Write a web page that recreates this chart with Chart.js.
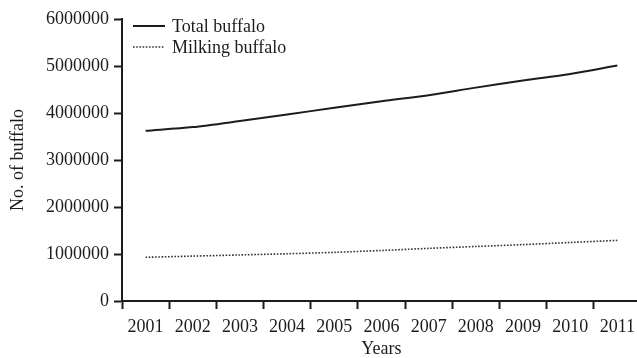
<!DOCTYPE html>
<html>
<head>
<meta charset="utf-8">
<script src="https://cdn.jsdelivr.net/npm/chart.js@4"></script>
<style>
  html, body { margin: 0; padding: 0; background: #fff; overflow: hidden; }
  #chart { display: block; }
</style>
</head>
<body>
<!-- a little wider than the window so the x axis runs off the right edge -->
<canvas id="chart" width="642" height="358"></canvas>
<script>
'use strict';

const years = ['2001', '2002', '2003', '2004', '2005', '2006', '2007', '2008', '2009', '2010', '2011'];
const totalBuffalo = [3620000, 3700000, 3830000, 3970000, 4110000, 4250000, 4380000, 4540000, 4690000, 4830000, 5010000];
const milkingBuffalo = [930000, 955000, 980000, 1005000, 1035000, 1075000, 1120000, 1160000, 1200000, 1245000, 1290000];
const yTicks = [0, 1000000, 2000000, 3000000, 4000000, 5000000, 6000000];

const ink = '#1c1c1c';
const serif = "'Liberation Serif', 'DejaVu Serif', serif";

// legend drawn inside the plot, top left, with a short line sample per series
const insideLegend = {
  id: 'insideLegend',
  afterDraw(chart) {
    const ctx = chart.ctx;
    const x0 = chart.chartArea.left + 11;
    let y = chart.chartArea.top + 7;
    ctx.save();
    ctx.font = '18px ' + serif;
    ctx.textBaseline = 'middle';
    chart.data.datasets.forEach(ds => {
      ctx.beginPath();
      ctx.strokeStyle = ds.borderColor;
      ctx.lineWidth = ds.borderWidth;
      ctx.setLineDash(ds.borderDash || []);
      ctx.moveTo(x0, y);
      ctx.lineTo(x0 + 32, y);
      ctx.stroke();
      ctx.setLineDash([]);
      ctx.fillStyle = ink;
      ctx.fillText(ds.label, x0 + 39, y + 1);
      y += 21;
    });
    ctx.restore();
  }
};

function renderChart() {
  let chartObj = {
    type: 'line',
    data: {
      labels: years,
      datasets: [
        {
          label: 'Total buffalo',
          data: totalBuffalo,
          borderColor: ink,
          borderWidth: 2,
          pointRadius: 0,
          tension: 0.3
        },
        {
          label: 'Milking buffalo',
          data: milkingBuffalo,
          borderColor: '#333',
          borderWidth: 1.6,
          borderDash: [1.6, 1.6],
          pointRadius: 0,
          tension: 0.3
        }
      ]
    },
    options: {
      responsive: false,
      animation: false,
      layout: { padding: { top: 19, right: 0, bottom: 0, left: 6 } },
      plugins: {
        legend: { display: false },
        tooltip: { enabled: false }
      },
      scales: {
        x: {
          type: 'category',
          offset: true,
          grid: {
            offset: true,
            drawOnChartArea: false,
            tickLength: 8,
            tickWidth: 2,
            tickColor: ink
          },
          border: { color: ink, width: 2 },
          ticks: {
            color: ink,
            padding: 7,
            maxRotation: 0,
            autoSkip: false,
            font: { family: serif, size: 18 }
          },
          title: {
            display: true,
            text: 'Years',
            color: ink,
            padding: { top: 0, bottom: 0 },
            font: { family: serif, size: 18, lineHeight: 1 }
          },
          afterFit(scale) { scale.height = 57; }
        },
        y: {
          min: 0,
          max: 6000000,
          afterBuildTicks(scale) {
            scale.ticks = yTicks.map(v => ({ value: v }));
          },
          grid: {
            drawOnChartArea: false,
            tickLength: 8,
            tickWidth: 2,
            tickColor: ink
          },
          border: { color: ink, width: 2 },
          ticks: {
            color: ink,
            padding: 5,
            callback: v => String(v),
            font: { family: serif, size: 18 }
          },
          title: {
            display: true,
            text: 'No. of buffalo',
            color: ink,
            padding: { top: 1, bottom: 4 },
            font: { family: serif, size: 18 }
          },
          afterFit(scale) { scale.width = 116; }
        }
      }
    },
    plugins: [insideLegend]
  };

  new Chart(document.getElementById('chart'), chartObj);
}

renderChart();
</script>
</body>
</html>
